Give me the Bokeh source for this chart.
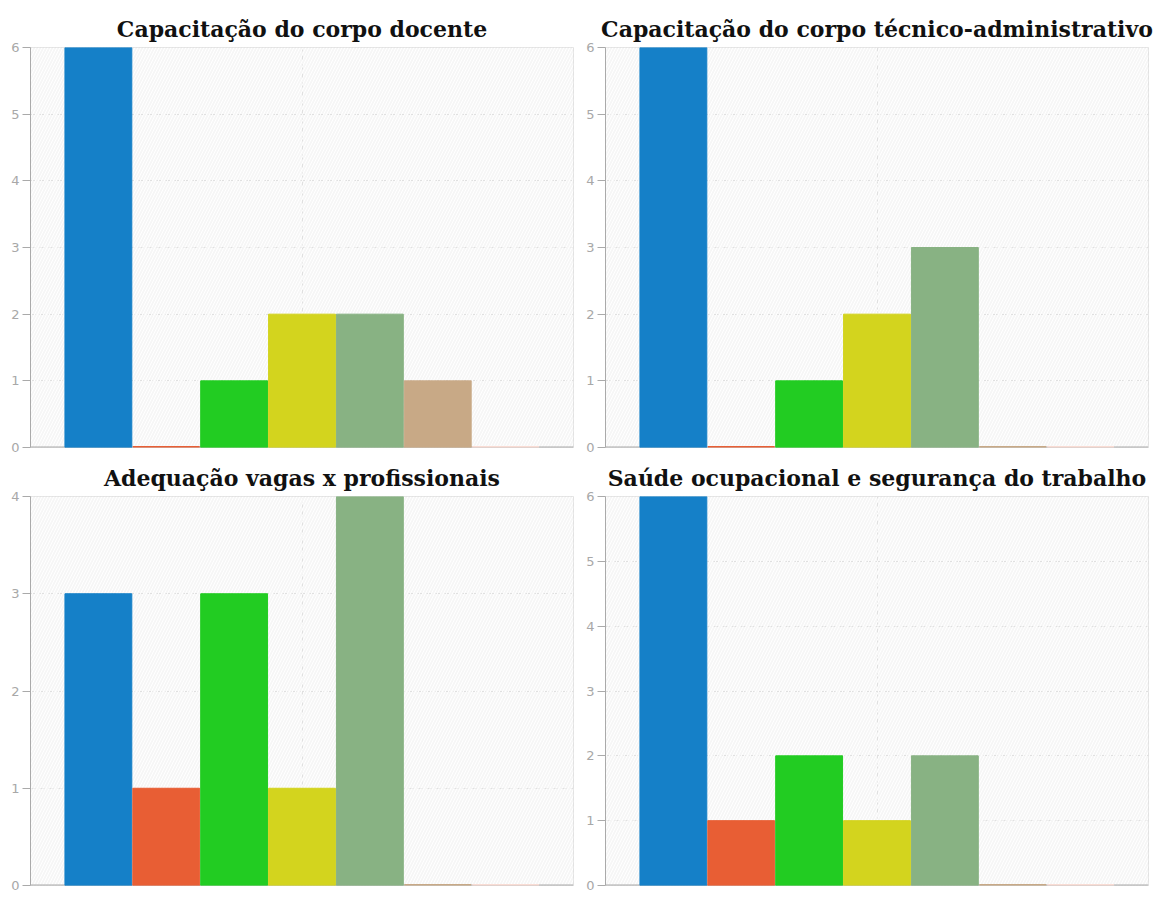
from bokeh.plotting import figure
from bokeh.layouts import gridplot
from bokeh.models import ColumnDataSource, Range1d, FixedTicker, BoxAnnotation, Span
from bokeh.embed import file_html
from bokeh.resources import INLINE

categories = ["1", "2", "3", "4", "5", "6", "7"]
colors = ["#1580C8", "#E85E34", "#22CC22", "#D3D41E", "#88B283", "#C8A986", "#F9DCD4"]

titles = [
    "Capacitação do corpo docente",
    "Capacitação do corpo técnico-administrativo",
    "Adequação vagas x profissionais",
    "Saúde ocupacional e segurança do trabalho",
]
docente = [6, 0, 1, 2, 2, 1, 0]
tecnico = [6, 0, 1, 2, 3, 0, 0]
vagas = [3, 1, 3, 1, 4, 0, 0]
saude = [6, 1, 2, 1, 2, 0, 0]
series = [docente, tecnico, vagas, saude]


def make(title, vals, width, height, b_left, b_right, b_top, b_bottom):
    ymax = max(vals)
    p = figure(width=width, height=height, output_backend="svg", toolbar_location=None,
               x_range=Range1d(0, 8), y_range=Range1d(0, ymax),
               min_border_left=b_left, min_border_right=b_right,
               min_border_top=b_top, min_border_bottom=b_bottom)
    p.title.text = title
    p.title.text_font = "DejaVu Serif"
    p.title.text_font_style = "bold"
    p.title.text_font_size = "22px"
    p.title.align = "center"
    p.title.text_color = "#111111"
    p.title.standoff = 11
    p.background_fill_color = "#f6f6f6"
    p.border_fill_color = "white"
    p.outline_line_color = "#e2e2e2"
    p.add_layout(BoxAnnotation(left=0, right=8, bottom=0, top=ymax, fill_alpha=0,
                               line_alpha=0, hatch_pattern="/", hatch_color="white",
                               hatch_scale=6, hatch_weight=1, hatch_alpha=1.0,
                               level="underlay"))
    p.add_layout(Span(location=0, dimension="width", line_color="#aaaaaa",
                      line_width=2, level="underlay"))
    x = [i + 1 for i in range(len(vals))]
    lw = [3 if v == 0 else 1 for v in vals]
    src = ColumnDataSource(dict(x=x, top=vals, color=colors, lw=lw))
    p.vbar(x="x", top="top", bottom=0, width=0.985, source=src,
           fill_color="color", line_color="color", line_width="lw")

    p.yaxis.ticker = FixedTicker(ticks=list(range(0, ymax + 1)))
    p.yaxis.axis_line_color = "#aaaaaa"
    p.yaxis.major_tick_line_color = "#aaaaaa"
    p.yaxis.major_tick_out = 8
    p.yaxis.major_tick_in = 0
    p.yaxis.minor_tick_line_color = None
    p.yaxis.major_label_text_color = "#a8a8a8"
    p.yaxis.major_label_text_font = "DejaVu Sans"
    p.yaxis.major_label_text_font_size = "13px"
    p.yaxis.major_label_standoff = 3

    p.xaxis.visible = False
    p.xgrid.ticker = FixedTicker(ticks=[4])
    p.xgrid.grid_line_color = "#e0e0e0"
    p.xgrid.grid_line_dash = "5 4"
    p.ygrid.grid_line_color = "#e0e0e0"
    p.ygrid.grid_line_dash = "5 4"
    return p


figs = [
    make(titles[0], series[0], 583, 455, 30, 10, 47, 8),
    make(titles[1], series[1], 575, 455, 22, 10, 47, 8),
    make(titles[2], series[2], 583, 440, 30, 10, 41, 10),
    make(titles[3], series[3], 575, 440, 22, 10, 41, 10),
]

grid = gridplot([[figs[0], figs[1]], [figs[2], figs[3]]], toolbar_location=None)
open("out.html", "w").write(file_html(grid, INLINE))
